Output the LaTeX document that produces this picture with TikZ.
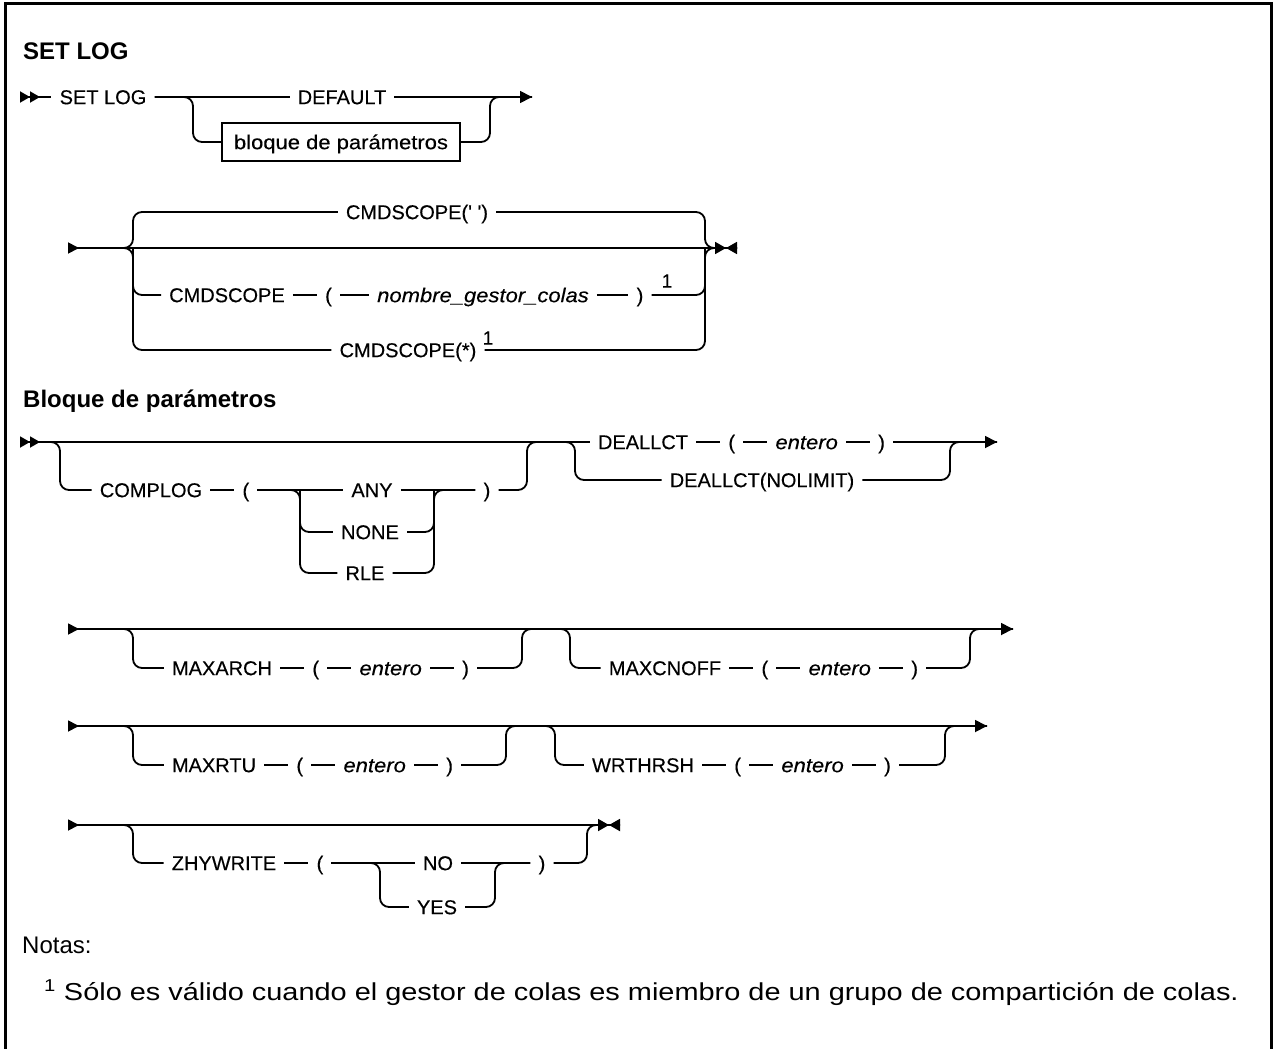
\documentclass[tikz,border=0pt]{standalone}
\usepackage{fontspec}
\setmainfont{Liberation Sans}
\newfontfamily\railfont{Liberation Sans}[FakeBold=0.3]
\newfontfamily\widefont{Liberation Sans}[FakeBold=0.3,FakeStretch=1.1]
\newfontfamily\notefont{Liberation Sans}[FakeStretch=1.18]
\usetikzlibrary{positioning,arrows.meta,calc}
\tikzset{
kw/.style={
font=\railfont\fontsize{20}{24}\selectfont,
inner xsep=8pt,
inner ysep=0pt,
text height=14.3pt,
text depth=0pt
},
var/.style={
kw,
font=\widefont\fontsize{20}{24}\selectfont\itshape
},
sup/.style={
font=\railfont\fontsize{19}{22}\selectfont,
inner sep=0pt
},
hdr/.style={
font=\fontsize{24}{28}\selectfont\bfseries,
anchor=west,
inner sep=0pt
},
blockbox/.style={
kw,
draw,
font=\widefont\fontsize{20}{24}\selectfont,
line width=1.6pt,
minimum height=38pt,
minimum width=238pt
},
rail/.style={
line width=1.8pt,
rounded corners=9pt
},
tipend/.style={-{Triangle[length=12pt,width=12pt]}},
startdbl/.style={{Triangle[length=10pt,width=11pt,reversed]Triangle[length=10pt,width=11pt,reversed]}-},
runon/.style={{Triangle[length=11pt,width=11pt,reversed]}-{Triangle[length=12pt,width=12pt]}},
runstop/.style={{Triangle[length=11pt,width=11pt,reversed]}-{Triangle[length=11pt,width=12pt]Triangle[length=11pt,width=12pt,reversed]}},
notetext/.style={
font=\fontsize{24}{28}\selectfont,
anchor=west,
inner sep=0pt
}
}
\begin{document}
\begin{tikzpicture}[x=1pt,y=-1pt,node distance=24pt]
\useasboundingbox (0,0) rectangle (1274,1049);
\draw[line width=3pt] (5,1049) -- (5,4) -- (1271,4) -- (1271,1049);

% SET LOG
\node[hdr] (title1) at (23,51) {SET LOG};
\coordinate (s1) at (20,97);
\coordinate (b1l) at (193,97);
\coordinate (b1r) at (490,97);
\coordinate (e1) at (532,97);
\node[kw] (setlog) at (103,97) {SET LOG};
\node[kw] (default) at (342,97) {DEFAULT};
\node[blockbox] (blk) at (341,142) {bloque de parámetros};
\draw[rail,startdbl] (s1) -- (setlog);
\draw[rail] (setlog) -- (default);
\draw[rail,tipend] (default) -- (e1);
\draw[rail] (setlog.east) -- (b1l) |- (blk);
\draw[rail] (blk) -| (b1r) -- (e1);

% CMDSCOPE
\coordinate (s2) at (68,248);
\coordinate (b2l) at (133,248);
\coordinate (b2r) at (705,248);
\coordinate (e2) at (737,248);
\node[kw] (cmdq) at (417,212) {CMDSCOPE(\textquotesingle\ \textquotesingle)};
\node[kw] (cmd) at (227,295) {CMDSCOPE};
\node[kw,right=of cmd] (lp1) {(};
\node[var] (qmgr) at (483,295) {nombre\_gestor\_colas};
\node[kw] (rp1) at (640,295) {)};
\node[sup] (n1) at (667,281) {1};
\node[kw] (cmdall) at (408,350) {CMDSCOPE(*)};
\node[sup] (n2) at (488,338) {1};
\draw[rail,runstop] (s2) -- (e2);
\draw[rail] (s2) -- (b2l) |- (cmdq);
\draw[rail] (s2) -- (b2l) |- (cmdall);
\draw[rail] (b2l) |- (cmd);
\foreach \x/\y in {cmd/lp1,lp1/qmgr,qmgr/rp1}
\draw[rail](\x)--(\y);
\draw[rail] (cmdq) -| (b2r) -- (e2);
\draw[rail] (cmdall) -| (b2r) -- (e2);
\draw[rail] (rp1) -| (b2r);

% Bloque de parametros
\node[hdr] (title2) at (23,401) {Bloque de parámetros};
\coordinate (s3) at (20,442);
\coordinate (b3l) at (60,442);
\coordinate (b3r) at (527,442);
\coordinate (b4l) at (300,490);
\coordinate (b4r) at (434,490);
\coordinate (b5l) at (575,442);
\coordinate (b5r) at (950,442);
\coordinate (e3) at (997,442);
\node[kw] (complog) at (151,490) {COMPLOG};
\node[kw,right=of complog] (lp2) {(};
\node[kw] (any) at (372,490) {ANY};
\node[kw] (none) at (370,532) {NONE};
\node[kw] (rle) at (365,573) {RLE};
\node[kw] (rp2) at (487,490) {)};
\node[kw] (deallct) at (643,442) {DEALLCT};
\node[kw,right=of deallct] (lp3) {(};
\node[var,right=of lp3] (int1) {entero};
\node[kw,right=of int1] (rp3) {)};
\node[kw] (nolimit) at (762,480) {DEALLCT(NOLIMIT)};
\draw[rail,startdbl] (s3) -- (deallct);
\draw[rail] (s3) -- (b3l) |- (complog);
\draw[rail] (complog) -- (lp2);
\draw[rail] (lp2) -- (any);
\draw[rail] (lp2) -- (b4l) |- (rle);
\draw[rail] (b4l) |- (none);
\draw[rail] (any) -- (rp2);
\draw[rail] (rle) -| (b4r) -- (rp2);
\draw[rail] (none) -| (b4r);
\draw[rail] (rp2) -| (b3r) -- (b5l);
\draw[rail] (s3) -- (b5l) |- (nolimit);
\foreach \x/\y in {deallct/lp3,lp3/int1,int1/rp3}
\draw[rail](\x)--(\y);
\draw[rail,tipend] (rp3) -- (e3);
\draw[rail] (nolimit) -| (b5r) -- (e3);

% MAXARCH / MAXCNOFF
\coordinate (s4) at (68,629);
\coordinate (b6l) at (133,629);
\coordinate (b6r) at (522,629);
\coordinate (b7l) at (570,629);
\coordinate (b7r) at (970,629);
\coordinate (e4) at (1013,629);
\node[kw] (maxarch) at (222,668) {MAXARCH};
\node[kw,right=of maxarch] (lp4) {(};
\node[var,right=of lp4] (int2) {entero};
\node[kw,right=of int2] (rp4) {)};
\node[kw] (maxcnoff) at (665,668) {MAXCNOFF};
\node[kw,right=of maxcnoff] (lp5) {(};
\node[var,right=of lp5] (int3) {entero};
\node[kw,right=of int3] (rp5) {)};
\draw[rail,runon] (s4) -- (e4);
\draw[rail] (s4) -- (b6l) |- (maxarch);
\draw[rail] (rp4) -| (b6r) -- (b7l) |- (maxcnoff);
\draw[rail] (rp5) -| (b7r) -- (e4);
\foreach \x/\y in {maxarch/lp4,lp4/int2,int2/rp4,maxcnoff/lp5,lp5/int3,int3/rp5}
\draw[rail](\x)--(\y);

% MAXRTU / WRTHRSH
\coordinate (s5) at (68,726);
\coordinate (b8l) at (133,726);
\coordinate (b8r) at (506,726);
\coordinate (b9l) at (555,726);
\coordinate (b9r) at (945,726);
\coordinate (e5) at (987,726);
\node[kw] (maxrtu) at (214,765) {MAXRTU};
\node[kw,right=of maxrtu] (lp6) {(};
\node[var,right=of lp6] (int4) {entero};
\node[kw,right=of int4] (rp6) {)};
\node[kw] (wrthrsh) at (643,765) {WRTHRSH};
\node[kw,right=of wrthrsh] (lp7) {(};
\node[var,right=of lp7] (int5) {entero};
\node[kw,right=of int5] (rp7) {)};
\draw[rail,runon] (s5) -- (e5);
\draw[rail] (s5) -- (b8l) |- (maxrtu);
\draw[rail] (rp6) -| (b8r) -- (b9l) |- (wrthrsh);
\draw[rail] (rp7) -| (b9r) -- (e5);
\foreach \x/\y in {maxrtu/lp6,lp6/int4,int4/rp6,wrthrsh/lp7,lp7/int5,int5/rp7}
\draw[rail](\x)--(\y);

% ZHYWRITE
\coordinate (s6) at (68,825);
\coordinate (b10l) at (133,825);
\coordinate (b10r) at (587,825);
\coordinate (e6) at (620,825);
\coordinate (b11l) at (380,863);
\coordinate (b11r) at (495,863);
\node[kw] (zhywrite) at (224,863) {ZHYWRITE};
\node[kw,right=of zhywrite] (lp8) {(};
\node[kw] (no) at (438,863) {NO};
\node[kw] (yes) at (437,907) {YES};
\node[kw] (rp8) at (542,863) {)};
\draw[rail,runstop] (s6) -- (e6);
\draw[rail] (s6) -- (b10l) |- (zhywrite);
\draw[rail] (zhywrite) -- (lp8);
\draw[rail] (lp8) -- (no);
\draw[rail] (lp8) -- (b11l) |- (yes);
\draw[rail] (no) -- (rp8);
\draw[rail] (yes) -| (b11r) -- (rp8);
\draw[rail] (rp8) -| (b10r) -- (e6);

% Notas
\node[notetext] (notes) at (22,945) {Notas:};
\node[notetext,font=\notefont\fontsize{24.5}{28}\selectfont] (fn1) at (44,993) {\textsuperscript{1} Sólo es válido cuando el gestor de colas es miembro de un grupo de compartición de colas.};
\end{tikzpicture}
\end{document}
